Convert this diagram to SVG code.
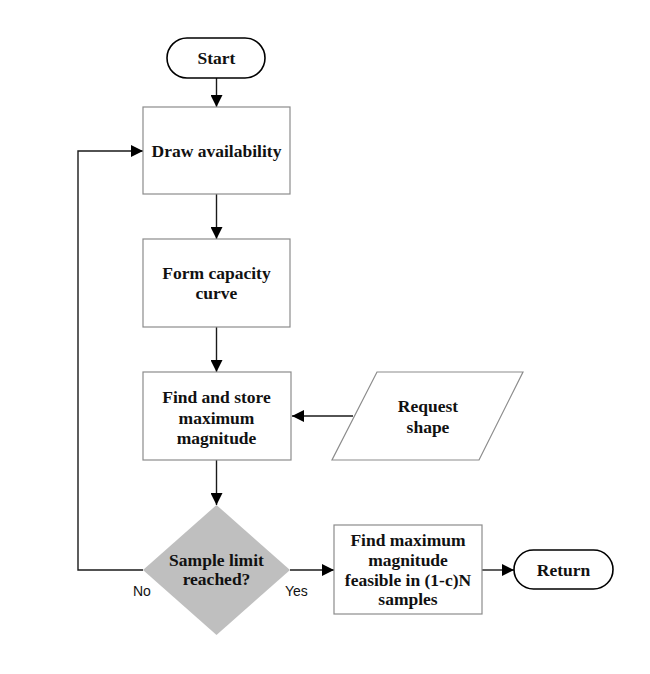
<svg xmlns="http://www.w3.org/2000/svg" width="650" height="674" viewBox="0 0 650 674">
  <style>
    .box { fill: #ffffff; stroke: #8c8c8c; stroke-width: 1.2; }
    .term { fill: #ffffff; stroke: #000000; stroke-width: 1.6; }
    .dec { fill: #bfbfbf; stroke: none; }
    .lbl { font-family: "Liberation Serif", "DejaVu Serif", serif; font-weight: bold; font-size: 17.5px; fill: #111111; text-anchor: middle; }
    .edge { fill: none; stroke: #1a1a1a; stroke-width: 1.4; }
    .tag { font-family: "Liberation Sans", Arial, sans-serif; font-size: 14px; fill: #111111; }
  </style>
  <defs>
    <marker id="arrow" viewBox="0 0 12 12" refX="12" refY="6" markerWidth="12" markerHeight="12" markerUnits="userSpaceOnUse" orient="auto">
      <path d="M0,0 L12,6 L0,12 Z" fill="#000000"/>
    </marker>
  </defs>

  <rect width="650" height="674" fill="#ffffff"/>

  <g id="connectors">
    <line class="edge" x1="216.5" y1="78" x2="216.5" y2="107" marker-end="url(#arrow)"/>
    <line class="edge" x1="216.5" y1="194" x2="216.5" y2="239" marker-end="url(#arrow)"/>
    <line class="edge" x1="216.5" y1="327" x2="216.5" y2="372" marker-end="url(#arrow)"/>
    <line class="edge" x1="216.5" y1="460" x2="216.5" y2="505" marker-end="url(#arrow)"/>
    <line class="edge" x1="353" y1="416" x2="292" y2="416" marker-end="url(#arrow)"/>
    <polyline class="edge" points="143,570 78,570 78,151 143,151" marker-end="url(#arrow)"/>
    <line class="edge" x1="290" y1="570" x2="334" y2="570" marker-end="url(#arrow)"/>
    <line class="edge" x1="482" y1="570" x2="514" y2="570" marker-end="url(#arrow)"/>
    <text class="tag" x="133" y="596">No</text>
    <text class="tag" x="285" y="596">Yes</text>
  </g>

  <g id="start">
    <rect class="term" x="167" y="38" width="98" height="40" rx="20" ry="20"/>
    <text class="lbl" x="216.5" y="64">Start</text>
  </g>

  <g id="draw-availability">
    <rect class="box" x="143" y="107" width="147" height="87"/>
    <text class="lbl" x="216.5" y="157">Draw availability</text>
  </g>

  <g id="form-capacity-curve">
    <rect class="box" x="143" y="239" width="147" height="88"/>
    <text class="lbl" x="216.5" y="279">Form capacity</text>
    <text class="lbl" x="216.5" y="299">curve</text>
  </g>

  <g id="find-and-store">
    <rect class="box" x="143" y="372" width="148" height="88"/>
    <text class="lbl" x="216.5" y="403">Find and store</text>
    <text class="lbl" x="216.5" y="424">maximum</text>
    <text class="lbl" x="216.5" y="444">magnitude</text>
  </g>

  <g id="request-shape">
    <polygon class="box" points="377,372 523,372 479,460 332,460"/>
    <text class="lbl" x="428" y="412">Request</text>
    <text class="lbl" x="428" y="433">shape</text>
  </g>

  <g id="sample-limit">
    <polygon class="dec" points="216.5,505 290,570 216.5,635 143,570"/>
    <text class="lbl" x="216.5" y="566">Sample limit</text>
    <text class="lbl" x="216.5" y="585">reached?</text>
  </g>

  <g id="find-maximum-feasible">
    <rect class="box" x="334" y="525" width="148" height="89"/>
    <text class="lbl" x="408" y="546">Find maximum</text>
    <text class="lbl" x="408" y="566">magnitude</text>
    <text class="lbl" x="408" y="586">feasible in (1-c)N</text>
    <text class="lbl" x="408" y="605">samples</text>
  </g>

  <g id="return">
    <rect class="term" x="514" y="550" width="99" height="39" rx="19.5" ry="19.5"/>
    <text class="lbl" x="563.5" y="576">Return</text>
  </g>
</svg>
